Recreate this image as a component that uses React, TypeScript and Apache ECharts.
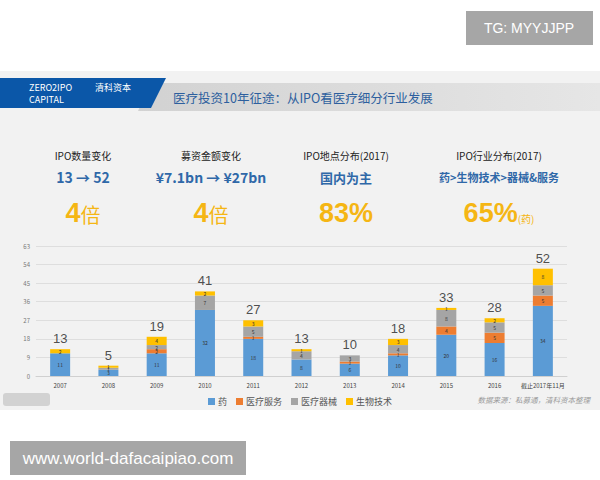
import React, { useEffect, useRef } from "react";
import * as echarts from "echarts";

// IPO counts by year and sub-sector
const years = ["2007", "2008", "2009", "2010", "2011", "2012", "2013", "2014", "2015", "2016", "截止2017年11月"];
const pharma = [11, 3, 11, 32, 18, 8, 6, 10, 20, 16, 34];
const services = [0, 0, 2, 0, 1, 0, 1, 1, 4, 5, 5];
const devices = [0, 1, 2, 7, 5, 4, 3, 4, 8, 5, 5];
const biotech = [2, 1, 4, 2, 3, 1, 0, 3, 1, 2, 8];
const seriesNames = ["药", "医疗服务", "医疗器械", "生物技术"];
const seriesColors = ["#5b9bd5", "#ed7d31", "#a5a5a5", "#ffc000"];
const yTicks = { min: 0, max: 63, interval: 9 };

// Headline stats row
const statTitles = ["IPO数量变化", "募资金额变化", "IPO地点分布(2017)", "IPO行业分布(2017)"];
const statSubs = ["13 → 52", "¥7.1bn → ¥27bn", "国内为主", "药>生物技术>器械&服务"];
const statMain = ["4", "4", "83%", "65%"];
const statSuffix = ["倍", "倍", "", "(药)"];
const statX = [83, 211, 346, 499];

const CJK = "'Noto Sans CJK SC', 'Noto Sans', sans-serif";
const YELLOW = "#f5b614";
const BLUE_TXT = "#2f68a8";

export default function App() {
  const ref = useRef<HTMLDivElement>(null);

  useEffect(() => {
    if (!ref.current) return;
    const chart = echarts.init(ref.current, undefined, { renderer: "svg" });
    const totals = years.map((_, i) => pharma[i] + services[i] + devices[i] + biotech[i]);
    const stacks = [pharma, services, devices, biotech];

    const statGraphics: any[] = [];
    statX.forEach((x, i) => {
      statGraphics.push({
        type: "text", x, y: 155,
        style: { text: statTitles[i], fill: "#222", font: `10px ${CJK}`, textAlign: "center", textVerticalAlign: "middle" },
      });
      statGraphics.push({
        type: "text", x, y: 177,
        style: {
          text: statSubs[i], fill: BLUE_TXT,
          font: `bold ${i === 3 ? 11 : i === 2 ? 13 : 14}px ${CJK}`,
          textAlign: "center", textVerticalAlign: "middle",
        },
      });
      statGraphics.push({
        type: "text", x, y: 213,
        style: {
          text: `{a|${statMain[i]}}{b|${statSuffix[i]}}`,
          textAlign: "center", textVerticalAlign: "middle",
          rich: {
            a: { fontSize: 27, fontWeight: "bold", fill: YELLOW, color: YELLOW, fontFamily: "'Liberation Sans', sans-serif" },
            b: {
              fontSize: i === 3 ? 10 : 20, fill: YELLOW, color: YELLOW, fontFamily: CJK,
              padding: i === 3 ? [10, 0, 0, 0] : [2, 0, 0, 0],
            },
          },
        },
      });
    });

    chart.setOption({
      animation: false,
      backgroundColor: "#ffffff",
      textStyle: { fontFamily: CJK },
      graphic: [
        // slide background
        { type: "rect", shape: { x: 0, y: 71, width: 600, height: 339 }, style: { fill: "#f2f2f2" }, z: -10 },
        // header band
        {
          type: "polygon",
          shape: { points: [[150, 83], [600, 83], [600, 111], [138, 111]] },
          style: {
            fill: new echarts.graphic.LinearGradient(0, 0, 1, 0, [
              { offset: 0, color: "#d2d2d2" },
              { offset: 1, color: "#e6e6e6" },
            ]),
          },
          z: -5,
        },
        {
          type: "polygon",
          shape: { points: [[0, 78], [166, 78], [151, 108], [0, 108]] },
          style: { fill: "#0b57a8" },
          z: -4,
        },
        { type: "text", x: 29, y: 87, style: { text: "ZERO2IPO", fill: "#fff", font: `9px ${CJK}`, textVerticalAlign: "middle" } },
        { type: "text", x: 29, y: 99, style: { text: "CAPITAL", fill: "#fff", font: `9px ${CJK}`, textVerticalAlign: "middle" } },
        { type: "text", x: 95, y: 87, style: { text: "清科资本", fill: "#fff", font: `9px ${CJK}`, textVerticalAlign: "middle" } },
        {
          type: "text", x: 173, y: 97,
          style: { text: "医疗投资10年征途：从IPO看医疗细分行业发展", fill: "#2d5f9e", font: `12.5px ${CJK}`, textVerticalAlign: "middle" },
        },
        ...statGraphics,
        // source note
        {
          type: "text", x: 590, y: 399,
          style: { text: "数据来源：私募通，清科资本整理", fill: "#9a9a9a", font: `italic 7.5px ${CJK}`, textAlign: "right", textVerticalAlign: "middle" },
        },
        // faint stamp, bottom left
        { type: "rect", shape: { x: 3, y: 393, width: 47, height: 13, r: 3 }, style: { fill: "#c9c9c9", opacity: 0.8 } },
        // watermarks
        { type: "rect", shape: { x: 466, y: 11, width: 127, height: 34 }, style: { fill: "#a6a6a6" } },
        {
          type: "text", x: 529, y: 28,
          style: { text: "TG: MYYJJPP", fill: "#fff", font: `14px 'Liberation Sans', sans-serif`, textAlign: "center", textVerticalAlign: "middle" },
        },
        { type: "rect", shape: { x: 10, y: 441, width: 236, height: 34 }, style: { fill: "#a6a6a6" } },
        {
          type: "text", x: 128, y: 458,
          style: { text: "www.world-dafacaipiao.com", fill: "#fff", font: `17px 'Liberation Sans', sans-serif`, textAlign: "center", textVerticalAlign: "middle" },
        },
      ],
      legend: {
        data: seriesNames,
        left: "center",
        top: 392,
        itemWidth: 7,
        itemHeight: 7,
        itemGap: 9,
        icon: "rect",
        textStyle: { fontSize: 9, color: "#555", fontFamily: CJK, padding: [0, 0, 0, -2] },
      },
      grid: { left: 36, right: 33, top: 246, bottom: 104, containLabel: false },
      xAxis: {
        type: "category",
        data: years,
        axisLine: { lineStyle: { color: "#d0d0d0" } },
        axisTick: { show: false },
        axisLabel: { fontSize: 6, color: "#444", margin: 6, interval: 0 },
      },
      yAxis: {
        type: "value",
        min: yTicks.min,
        max: yTicks.max,
        interval: yTicks.interval,
        axisLine: { show: false },
        axisTick: { show: false },
        axisLabel: { fontSize: 6, color: "#777", margin: 6 },
        splitLine: { lineStyle: { color: "#dedede" } },
      },
      series: [
        ...stacks.map((vals, k) => ({
          name: seriesNames[k],
          type: "bar",
          stack: "ipo",
          barWidth: 20,
          itemStyle: { color: seriesColors[k] },
          data: vals,
          label: {
            show: true,
            position: "inside",
            fontSize: 5,
            color: "#333",
            formatter: (p: any) => (p.value > 0 ? String(p.value) : ""),
          },
        })),
        {
          name: "合计",
          type: "scatter",
          data: totals,
          symbolSize: 0,
          silent: true,
          label: { show: true, position: "top", distance: 4, fontSize: 13, color: "#222", fontFamily: "'Liberation Sans', sans-serif" },
        },
      ],
    });
    return () => chart.dispose();
  }, []);

  return <div ref={ref} style={{ position: "fixed", left: 0, top: 0, width: 600, height: 480 }} />;
}
